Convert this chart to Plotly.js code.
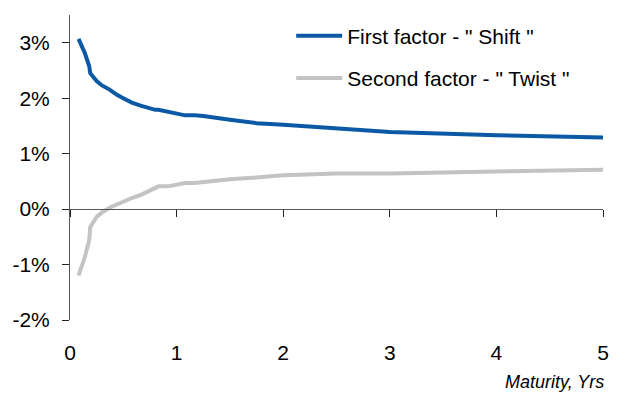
<!DOCTYPE html>
<html><head><meta charset="utf-8">
<script src="https://cdn.plot.ly/plotly-3.0.1.min.js"></script>
<style>html,body{margin:0;padding:0;background:#fff}#chart{width:632px;height:395px}</style>
</head><body><div id="chart"></div>
<script>
const maturity = [0.08,0.14,0.18,0.19,0.25,0.30,0.375,0.44,0.5,0.58,0.67,0.75,0.8,0.83,0.92,1.0,1.08,1.17,1.25,1.5,1.75,2,2.5,3,4,5];
const shift = [3.07,2.81,2.58,2.45,2.31,2.23,2.15,2.06,2.00,1.92,1.86,1.81,1.79,1.79,1.75,1.72,1.69,1.69,1.68,1.61,1.55,1.52,1.45,1.39,1.33,1.29];
const twist = [-1.20,-0.86,-0.56,-0.32,-0.14,-0.06,0.03,0.09,0.13,0.20,0.26,0.33,0.39,0.41,0.41,0.44,0.47,0.47,0.49,0.54,0.57,0.61,0.64,0.64,0.68,0.71];
const seriesNames = ['First factor - " Shift "','Second factor - " Twist "'];
const xTicks = [0,1,2,3,4,5];
const yTicks = [-2,-1,0,1,2,3];
const yRange = [-2, 3.5];
const font = {family:'Liberation Sans, Arial, sans-serif', size:21, color:'#000'};

const traces = [
  {x:maturity, y:shift, name:seriesNames[0], type:'scatter', mode:'lines', line:{color:'#0b59a5', width:4}, legendgroup:'a'},
  {x:maturity, y:twist, name:seriesNames[1], type:'scatter', mode:'lines', line:{color:'#c3c3c3', width:4}, legendgroup:'b'},
  {x:[0,5], y:[0,0], xaxis:'x2', yaxis:'y', mode:'lines', line:{width:0}, showlegend:false, hoverinfo:'skip'}
];
const zeroPos = (0 - yRange[0]) / (yRange[1] - yRange[0]);
const layout = {
  width:632, height:395,
  margin:{l:70, r:29, t:15, b:75},
  paper_bgcolor:'#fff', plot_bgcolor:'#fff',
  font:font,
  showlegend:true,
  legend:{x:0.415, y:0.998, xanchor:'left', yanchor:'top', font:{family:font.family, size:21, color:'#000'},
          traceorder:'grouped', tracegroupgap:12, itemwidth:46, bgcolor:'rgba(0,0,0,0)'},
  xaxis:{range:[0,5], tickvals:xTicks, ticktext:xTicks.map(String), showline:false, ticks:'', showgrid:false, zeroline:false,
         ticklabelstandoff:18, tickfont:font},
  xaxis2:{range:[0,5], overlaying:'x', anchor:'free', position:zeroPos, side:'bottom', tickvals:xTicks, showticklabels:false,
          showline:true, linecolor:'#555', linewidth:1, ticks:'outside', ticklen:7, tickcolor:'#222', showgrid:false, zeroline:false},
  yaxis:{range:yRange, tickvals:yTicks, ticktext:yTicks.map(v=>v+'%'), showline:true, linecolor:'#555', linewidth:1,
         ticks:'outside', ticklen:7, tickcolor:'#222', showgrid:false, zeroline:false, tickfont:font, ticklabelstandoff:8},
  annotations:[{xref:'paper', yref:'paper', x:1.0, y:0, xshift:3, yshift:-74, xanchor:'right', yanchor:'bottom', showarrow:false,
                text:'<i>Maturity, Yrs</i>', font:{family:font.family, size:18, color:'#000'}}]
};
Plotly.newPlot('chart', traces, layout, {displayModeBar:false, staticPlot:true});
</script></body></html>
